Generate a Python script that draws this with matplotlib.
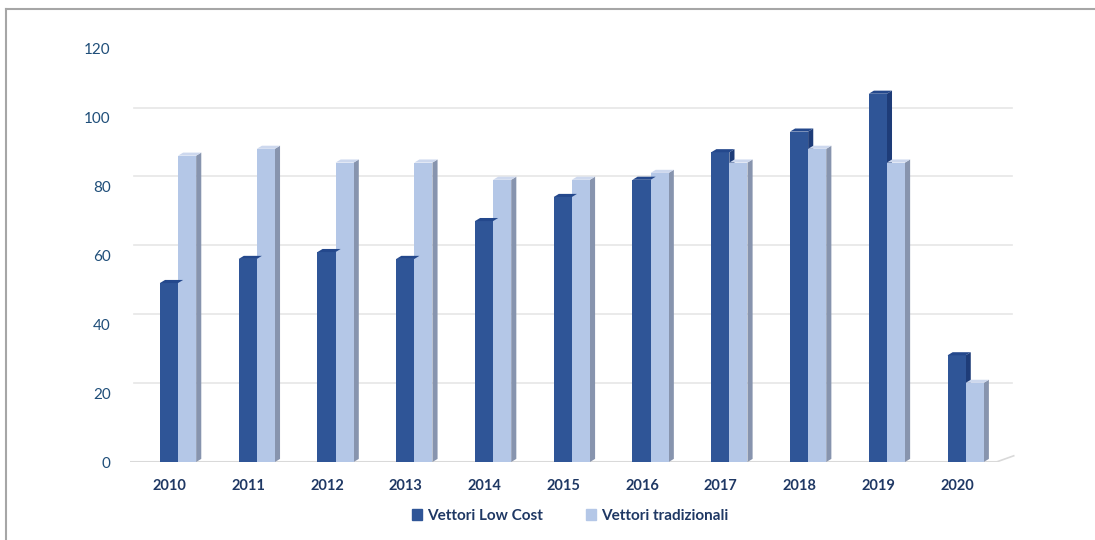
import matplotlib.pyplot as plt
from matplotlib.patches import Polygon
from matplotlib.lines import Line2D
import numpy as np

plt.rcParams['font.family'] = ['Lato', 'DejaVu Sans']

# Data
years = ['2010', '2011', '2012', '2013', '2014', '2015', '2016', '2017', '2018', '2019', '2020']
low_cost = [52, 59, 61, 59, 70, 77, 82, 90, 96, 107, 31]
tradizionali = [89, 91, 87, 87, 82, 82, 84, 87, 91, 87, 23]
y_ticks = [0, 20, 40, 60, 80, 100, 120]

# Colours
c_low = '#2F5597'
c_low_side = '#1E3C78'
c_low_top = '#24488C'
c_trad = '#B4C7E7'
c_trad_side = '#8794AE'
c_trad_top = '#CDD8EE'
text_col = '#1F4E79'

fig = plt.figure(figsize=(10.95, 5.4), dpi=100)
ax = fig.add_axes([130 / 1095, 78 / 540, 890 / 1095, 413 / 540])

x = np.arange(len(years))
w = 0.23
dx = 0.065   # depth offset (x, data units)
dy = 0.9     # depth offset (y, data units)
shift = 0.11


def bar3d(xs, vals, face, side, top):
    ax.bar(xs, vals, width=w, align='edge', color=face, zorder=3, linewidth=0)
    for xl, v in zip(xs, vals):
        xr = xl + w
        ax.add_patch(Polygon([(xr, 0), (xr + dx, dy), (xr + dx, v + dy), (xr, v)],
                             closed=True, facecolor=side, edgecolor='none', zorder=2))
        ax.add_patch(Polygon([(xl, v), (xl + dx, v + dy), (xr + dx, v + dy), (xr, v)],
                             closed=True, facecolor=top, edgecolor='none', zorder=3))


bar3d(x + shift, tradizionali, c_trad, c_trad_side, c_trad_top)
bar3d(x - w + shift, low_cost, c_low, c_low_side, c_low_top)

ax.set_xlim(-0.5, 10.8)
ax.set_ylim(0, 120)

# gridlines on the back wall
for t in y_ticks[1:]:
    ax.plot([-0.45, 10.7], [t + 3, t + 3], color='#E6E6E6', linewidth=1.2, zorder=0)

# floor
ax.plot([-0.5, 10.5], [0, 0], color='#D9D9D9', linewidth=1.5, zorder=1)
ax.plot([10.5, 10.72], [0, 1.8], color='#D9D9D9', linewidth=1.2, zorder=1)

ax.set_xticks(x)
ax.set_xticklabels(years, fontsize=10.5, fontweight='bold', color='#1F3864')
ax.set_yticks(y_ticks)
ax.set_yticklabels([str(t) for t in y_ticks], fontsize=11, color=text_col)
ax.tick_params(axis='both', length=0)
ax.tick_params(axis='y', pad=14)
ax.tick_params(axis='x', pad=12)
for s in ax.spines.values():
    s.set_visible(False)

handles = [plt.Rectangle((0, 0), 1, 1, color=c_low), plt.Rectangle((0, 0), 1, 1, color=c_trad)]
fig.legend(handles, ['Vettori Low Cost', 'Vettori tradizionali'], loc='center',
           bbox_to_anchor=(570 / 1095, 1 - 516 / 540), ncol=2, frameon=False,
           handlelength=0.7, handleheight=0.7, handletextpad=0.3, columnspacing=2.8,
           prop={'weight': 'bold', 'size': 11})
for t in fig.legends[0].get_texts():
    t.set_color('#1F3864')

# chart frame
fig.add_artist(Line2D([6 / 1095, 6 / 1095], [0, 1 - 9 / 540], color='#A6A6A6', linewidth=1.5))
fig.add_artist(Line2D([6 / 1095, 1], [1 - 9 / 540, 1 - 9 / 540], color='#A6A6A6', linewidth=1.5))

fig.savefig('out.png', dpi=100)
